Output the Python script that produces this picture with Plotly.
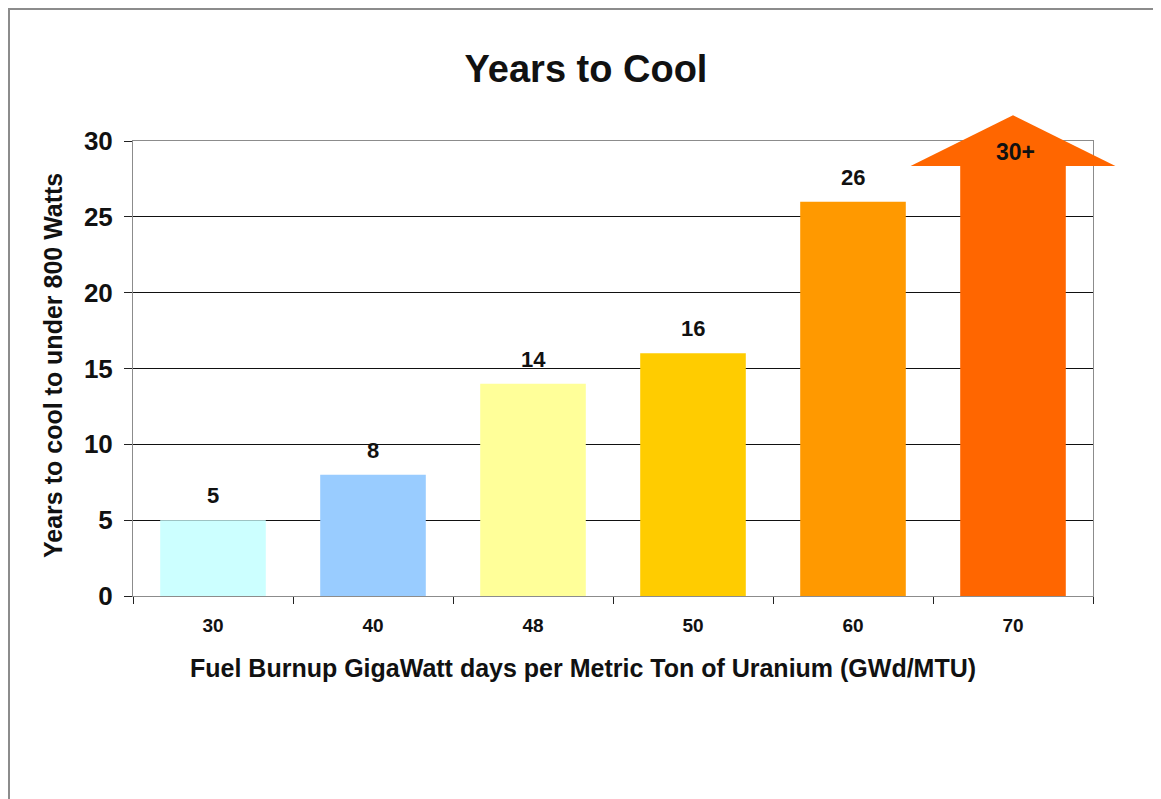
import plotly.graph_objects as go

# ---- data ----
categories = ["30", "40", "48", "50", "60", "70"]
years = [5, 8, 14, 16, 26, 30]
value_labels = ["5", "8", "14", "16", "26", "30+"]
bar_colors = ["#CCFFFF", "#99CCFF", "#FFFF99", "#FFCC00", "#FF9900", "#FF6600"]
arrow_head_base = 28.35   # where the arrow head starts on the last bar
arrow_tip = 31.7          # tip of the arrow
arrow_head_halfwidth = 0.64  # in category units

title_text = "Years to Cool"
x_title = "Fuel Burnup GigaWatt days per Metric Ton of Uranium (GWd/MTU)"
y_title = "Years to cool to under 800 Watts"

# ---- layout geometry (page pixels; the html body adds an 8px offset) ----
OFF = 8
WIN_W, WIN_H = 1161, 799
W, H = WIN_W - OFF, WIN_H - OFF
PLOT_L, PLOT_R, PLOT_T, PLOT_B = 133, 1093, 141, 596
L, T = PLOT_L - OFF, PLOT_T - OFF
R, B = W - (PLOT_R - OFF), H - (PLOT_B - OFF)
PW, PH = PLOT_R - PLOT_L, PLOT_B - PLOT_T
YMAX = 30
FONT = "Liberation Sans, Arial, sans-serif"
BARW = 0.66


def px_x(px):
    return (px - PLOT_L) / PW


def px_y(py):
    return (PLOT_B - py) / PH


n = len(categories)
shaft_vals = years[:-1] + [arrow_head_base]

fig = go.Figure()
fig.add_trace(go.Bar(
    x=categories, y=shaft_vals,
    marker=dict(color=bar_colors, line=dict(width=0)),
    width=BARW, showlegend=False, hoverinfo="x+y",
))

# arrow head for last category (domain coords so it's not clipped)
i = n - 1
cx = (i + 0.5) / n
hw = arrow_head_halfwidth / n
yb = arrow_head_base / YMAX
yt = arrow_tip / YMAX
fig.add_shape(
    type="path", xref="x domain", yref="y domain", layer="above",
    path=f"M {cx-hw} {yb} L {cx} {yt} L {cx+hw} {yb} Z",
    fillcolor=bar_colors[-1], line=dict(width=0),
)

annotations = []
for k, (v, lab) in enumerate(zip(years, value_labels)):
    if k < n - 1:
        annotations.append(dict(
            x=k, y=v, xref="x", yref="y", text=lab, showarrow=False,
            yanchor="bottom", yshift=10,
            font=dict(family=FONT, size=22, color="#111", weight="bold"),
        ))
    else:
        annotations.append(dict(
            x=k, y=arrow_head_base + 0.95, xref="x", yref="y", text=lab, showarrow=False,
            yanchor="middle", xshift=2,
            font=dict(family=FONT, size=23, color="#111", weight="bold"),
        ))

annotations.append(dict(
    x=px_x(583), y=px_y(668), xref="paper", yref="paper", text=x_title,
    showarrow=False, xanchor="center", yanchor="middle",
    font=dict(family=FONT, size=25, color="#111", weight="bold"),
))
annotations.append(dict(
    x=px_x(53), y=px_y(366), xref="paper", yref="paper", text=y_title,
    showarrow=False, xanchor="center", yanchor="middle", textangle=-90,
    font=dict(family=FONT, size=25, color="#111", weight="bold"),
))

# outer border of the picture
fig.add_shape(
    type="rect", xref="paper", yref="paper", layer="above",
    x0=px_x(OFF + 1), x1=px_x(WIN_W + 20), y0=px_y(WIN_H + 20), y1=px_y(OFF + 1),
    line=dict(color="#8c8c8c", width=2), fillcolor="rgba(0,0,0,0)",
)

fig.update_layout(
    width=W, height=H,
    margin=dict(l=L, r=R, t=T, b=B, pad=0),
    paper_bgcolor="white", plot_bgcolor="white",
    title=dict(text=title_text, x=(586 - OFF) / W, xanchor="center", y=1 - (69 - OFF) / H,
               yanchor="middle", yref="container",
               font=dict(family=FONT, size=38, color="#111", weight="bold")),
    bargap=1 - BARW,
    annotations=annotations,
    showlegend=False,
)
fig.update_xaxes(
    type="category", categoryorder="array", categoryarray=categories,
    range=[-0.5, n - 0.5], autorange=False,
    showline=True, linecolor="#8c8c8c", linewidth=1, mirror=True,
    ticks="outside", tickson="boundaries", ticklen=7, tickcolor="#222", tickwidth=1,
    showgrid=False, ticklabelstandoff=12, tickangle=0,
    tickfont=dict(family=FONT, size=19, color="#111", weight="bold"),
)
fig.update_yaxes(
    range=[0, YMAX], dtick=5, showline=True, linecolor="#8c8c8c", linewidth=1, mirror=True,
    ticks="outside", ticklen=8, tickcolor="#222", zeroline=False,
    showgrid=True, gridcolor="#111", gridwidth=1, ticklabelstandoff=6,
    tickfont=dict(family=FONT, size=26, color="#111", weight="bold"),
)

fig.write_html("out.html")
